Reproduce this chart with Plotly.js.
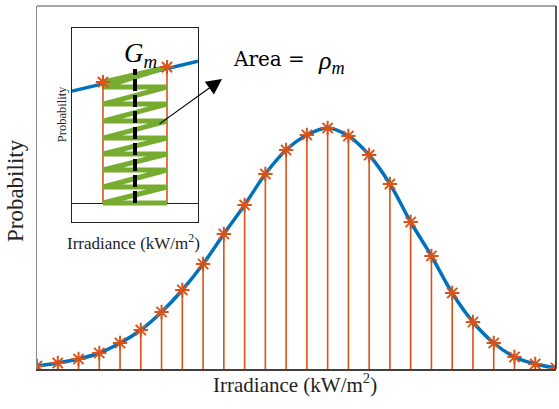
<!DOCTYPE html>
<html>
<head>
<meta charset="utf-8">
<script src="https://cdn.plot.ly/plotly-3.0.1.min.js"></script>
<style>html,body{margin:0;padding:0;background:#fff;}#chart{width:559px;height:409px;}</style>
</head>
<body>
<div id="chart"></div>
<script>
// Main chart data: irradiance (kW/m^2) and probability
const irradiance = [0, 0.04, 0.08, 0.12, 0.16, 0.20, 0.24, 0.28, 0.32, 0.36, 0.40, 0.44, 0.48, 0.52, 0.56, 0.60, 0.64, 0.68, 0.72, 0.76, 0.80, 0.84, 0.88, 0.92, 0.96, 1.00];
const probability = [0.03, 0.06, 0.10, 0.16, 0.26, 0.39, 0.57, 0.79, 1.05, 1.35, 1.64, 1.95, 2.19, 2.34, 2.41, 2.33, 2.14, 1.85, 1.47, 1.13, 0.76, 0.47, 0.26, 0.12, 0.05, 0.01];

// Inset data (zoomed view of one bin)
const insetCurveX = [0, 1];
const insetCurveY = [112, 142];
const insetStemX = [0.246, 0.754];
const insetStemY = [121, 136];
const insetRowY = [116, 99, 82, 65, 49, 33, 16, 0];
const insetGmX = [0.5, 0.5];
const insetGmY = [0, 134];

const RED = '#D95319', BLUE = '#0072BD', GREEN = '#77AC30';

// stems for main chart
const stemX = [], stemY = [];
irradiance.forEach((x, i) => { stemX.push(x, x, null); stemY.push(0, probability[i], null); });

// inset stems
const iStemX = [], iStemY = [];
insetStemX.forEach((x, i) => { iStemX.push(x, x, null); iStemY.push(0, insetStemY[i], null); });

// zigzag
const zzX = [insetStemX[0], insetStemX[1]], zzY = [insetStemY[0], insetStemY[1]];
insetRowY.forEach(y => { zzX.push(insetStemX[0], insetStemX[1]); zzY.push(y, y); });

const star = {symbol: 'asterisk-open', size: 12, color: RED, line: {color: RED, width: 2}};

const traces = [
  {x: stemX, y: stemY, mode: 'lines', line: {color: RED, width: 1.6}, hoverinfo: 'skip'},
  {x: irradiance, y: probability, mode: 'lines', line: {color: BLUE, width: 3.5, shape: 'spline', smoothing: 1}},
  {x: irradiance, y: probability, mode: 'markers', marker: star},
  {x: insetCurveX, y: insetCurveY, xaxis: 'x2', yaxis: 'y2', mode: 'lines', line: {color: BLUE, width: 3.5}},
  {x: iStemX, y: iStemY, xaxis: 'x2', yaxis: 'y2', mode: 'lines', line: {color: RED, width: 1.6}},
  {x: zzX, y: zzY, xaxis: 'x2', yaxis: 'y2', mode: 'lines', line: {color: GREEN, width: 5}},
  {x: insetGmX, y: insetGmY, xaxis: 'x2', yaxis: 'y2', mode: 'lines', line: {color: '#000', width: 4, dash: '12px,4px'}},
  {x: insetStemX, y: insetStemY, xaxis: 'x2', yaxis: 'y2', mode: 'markers', marker: star}
];

const serif = 'Liberation Serif, Times New Roman, serif';
const layout = {
  width: 559, height: 409,
  margin: {l: 37, r: 3, t: 6, b: 40},
  paper_bgcolor: '#fff', plot_bgcolor: '#fff',
  showlegend: false,
  xaxis: {range: [0, 1], showgrid: false, zeroline: false, showticklabels: false, ticks: '', showline: true, linecolor: '#404040', linewidth: 1.5},
  yaxis: {range: [0, 3.63], showgrid: false, zeroline: false, showticklabels: false, ticks: '', showline: true, linecolor: '#8a8a8a', linewidth: 1.5},
  xaxis2: {domain: [0.0674, 0.3102], anchor: 'y2', range: [0, 1], showgrid: false, zeroline: false, showticklabels: false, ticks: '', showline: true, mirror: true, linecolor: '#222', linewidth: 1},
  yaxis2: {domain: [0.405, 0.939], anchor: 'x2', range: [-19, 175], showgrid: false, zeroline: true, zerolinecolor: '#222', zerolinewidth: 1, showticklabels: false, ticks: '', showline: true, mirror: true, linecolor: '#222', linewidth: 1},
  shapes: [
    {type: 'line', xref: 'paper', yref: 'paper', x0: 0, x1: 1, y0: 1, y1: 1, line: {color: '#8a8a8a', width: 1.5}},
    {type: 'line', xref: 'paper', yref: 'paper', x0: 1, x1: 1, y0: 0, y1: 1, line: {color: '#222', width: 1.5}}
  ],
  annotations: [
    {xref: 'paper', yref: 'paper', x: 0.497, y: -0.0386, text: 'Irradiance (kW/m<sup>2</sup>)', showarrow: false, xanchor: 'center', yanchor: 'middle', font: {family: serif, size: 21, color: '#222'}},
    {xref: 'paper', yref: 'paper', x: -0.0424, y: 0.493, text: 'Probability', textangle: -90, showarrow: false, xanchor: 'center', yanchor: 'middle', font: {family: serif, size: 23, color: '#222'}},
    {xref: 'paper', yref: 'paper', x: 0.0482, y: 0.702, text: 'Probability', textangle: -90, showarrow: false, xanchor: 'center', yanchor: 'middle', font: {family: serif, size: 12.5, color: '#222'}},
    {xref: 'paper', yref: 'paper', x: 0.185, y: 0.35, text: 'Irradiance (kW/m<sup>2</sup>)', showarrow: false, xanchor: 'center', yanchor: 'middle', font: {family: serif, size: 17, color: '#222'}},
    {xref: 'paper', yref: 'paper', x: 0.1638, y: 0.866, text: '<i>G</i><sub><i>m</i></sub>', showarrow: false, xanchor: 'left', yanchor: 'middle', font: {family: serif, size: 27, color: '#000'}},
    {xref: 'paper', yref: 'paper', x: 0.3738, y: 0.855, text: 'Area =', showarrow: false, xanchor: 'left', yanchor: 'middle', font: {family: 'DejaVu Serif, serif', size: 20, color: '#000'}},
    {xref: 'paper', yref: 'paper', x: 0.537, y: 0.845, text: '<i>ρ</i><sub><i>m</i></sub>', showarrow: false, xanchor: 'left', yanchor: 'middle', font: {family: serif, size: 26, color: '#000'}},
    {xref: 'paper', yref: 'paper', x: 0.3565, y: 0.799, ax: -64, ay: 46, text: '', showarrow: true, arrowhead: 2, arrowsize: 2.6, arrowwidth: 1.2, arrowcolor: '#000'}
  ]
};

Plotly.newPlot('chart', traces, layout, {staticPlot: true, displayModeBar: false});
</script>
</body>
</html>
